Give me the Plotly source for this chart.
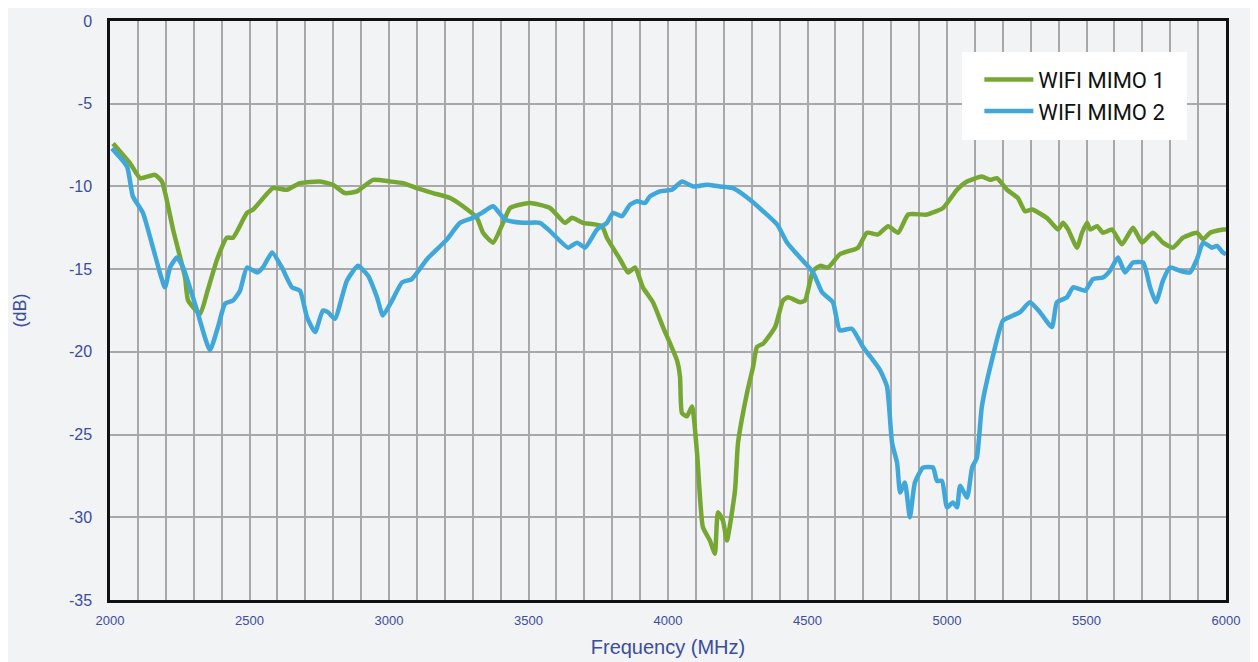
import plotly.graph_objects as go

mimo1_freq = [2011, 2072, 2108, 2161, 2186, 2226, 2269, 2280, 2323, 2348, 2384, 2419, 2441, 2491, 2513,
              2584, 2634, 2681, 2753, 2799, 2842, 2885, 2943, 3004, 3050, 3100, 3158, 3219, 3265, 3315,
              3337, 3373, 3409, 3434, 3505, 3577, 3631, 3656, 3695, 3763, 3781, 3828, 3857, 3882, 3910,
              3946, 3982, 4032, 4043, 4050, 4068, 4086, 4104, 4125, 4150, 4168, 4179, 4197, 4211, 4240,
              4251, 4283, 4305, 4319, 4341, 4384, 4412, 4430, 4473, 4491, 4520, 4545, 4574, 4616, 4681,
              4713, 4753, 4789, 4825, 4861, 4928, 4986, 5036, 5072, 5125, 5154, 5179, 5215, 5254, 5280,
              5305, 5358, 5398, 5416, 5434, 5466, 5484, 5502, 5513, 5538, 5559, 5591, 5627, 5667, 5699,
              5738, 5774, 5810, 5846, 5896, 5918, 5943, 5989, 6000]
mimo1_db = [-7.4, -8.6, -9.5, -9.3, -9.7, -12.6, -15.5, -16.9, -17.7, -16.4, -14.4, -13.1, -13.1, -11.6, -11.4,
            -10.1, -10.2, -9.8, -9.7, -9.9, -10.4, -10.3, -9.6, -9.7, -9.8, -10.1, -10.4, -10.7, -11.2, -11.9,
            -12.8, -13.4, -12.2, -11.3, -11.0, -11.3, -12.2, -11.9, -12.2, -12.4, -13.1, -14.4, -15.2, -14.9, -16.1,
            -17.0, -18.5, -20.5, -21.5, -23.7, -23.9, -23.3, -26.1, -30.6, -31.4, -32.2, -29.7, -30.2, -31.4, -28.4,
            -25.5, -22.5, -20.9, -19.7, -19.5, -18.5, -16.9, -16.7, -17.0, -16.9, -15.1, -14.8, -14.9, -14.1, -13.7,
            -12.8, -12.9, -12.4, -12.8, -11.7, -11.7, -11.3, -10.2, -9.7, -9.4, -9.6, -9.5, -10.2, -10.7, -11.5,
            -11.4, -11.9, -12.6, -12.2, -12.6, -13.7, -12.8, -12.2, -12.6, -12.4, -12.8, -12.6, -13.5, -12.5, -13.4,
            -12.8, -13.4, -13.7, -13.1, -12.8, -13.2, -12.8, -12.6, -12.6]

mimo2_freq = [2007, 2061, 2082, 2118, 2154, 2197, 2215, 2240, 2262, 2312, 2358, 2387, 2412, 2441, 2466,
              2491, 2527, 2548, 2581, 2616, 2652, 2681, 2706, 2735, 2763, 2781, 2806, 2849, 2889, 2925,
              2957, 2978, 3011, 3047, 3082, 3136, 3208, 3254, 3301, 3333, 3373, 3416, 3480, 3541, 3577,
              3642, 3674, 3703, 3746, 3781, 3803, 3835, 3864, 3889, 3918, 3935, 3971, 4014, 4050, 4090,
              4140, 4186, 4233, 4294, 4341, 4391, 4427, 4473, 4520, 4552, 4591, 4616, 4659, 4699, 4760,
              4785, 4803, 4821, 4832, 4849, 4867, 4885, 4914, 4950, 4964, 4982, 5000, 5021, 5036, 5047,
              5072, 5090, 5107, 5125, 5161, 5201, 5237, 5262, 5297, 5333, 5376, 5394, 5430, 5452, 5495,
              5523, 5559, 5584, 5613, 5638, 5667, 5703, 5728, 5749, 5774, 5799, 5835, 5871, 5896, 5918,
              5950, 5968, 5989, 6000]
mimo2_db = [-7.7, -8.8, -10.6, -11.6, -13.7, -16.1, -14.9, -14.3, -14.9, -17.5, -19.9, -18.5, -17.1, -16.9, -16.3,
            -14.9, -15.2, -14.9, -14.0, -14.9, -16.1, -16.3, -17.9, -18.8, -17.5, -17.6, -18.0, -15.7, -14.8, -15.4,
            -16.7, -17.8, -16.9, -15.8, -15.6, -14.4, -13.2, -12.2, -11.9, -11.6, -11.2, -12.0, -12.2, -12.2, -12.7,
            -13.7, -13.4, -13.7, -12.6, -12.2, -11.6, -11.8, -11.1, -10.9, -11.0, -10.6, -10.3, -10.2, -9.7, -10.0,
            -9.9, -10.0, -10.1, -10.8, -11.5, -12.3, -13.4, -14.3, -15.2, -16.4, -17.0, -18.7, -18.6, -19.7, -21.1,
            -22.1, -25.5, -26.7, -28.5, -27.9, -30.0, -27.9, -27.0, -27.0, -27.8, -27.8, -29.4, -29.1, -29.4, -28.1,
            -28.8, -27.0, -26.4, -23.3, -20.5, -18.1, -17.8, -17.6, -17.0, -17.6, -18.5, -17.0, -16.7, -16.1, -16.3,
            -15.6, -15.5, -15.1, -14.3, -15.2, -14.6, -14.6, -16.1, -17.0, -15.7, -14.9, -15.1, -15.2, -14.4, -13.4,
            -13.7, -13.6, -14.0, -14.1]

x_ticks = [2000, 2500, 3000, 3500, 4000, 4500, 5000, 5500, 6000]
y_ticks = [0, -5, -10, -15, -20, -25, -30, -35]

GREEN = "#77a733"
BLUE = "#3fa7d9"
LABEL = "#3b4d9c"
GRID = "#a8a8a8"
BG = "#f1f3f5"

fig = go.Figure()
fig.add_trace(go.Scatter(x=mimo1_freq, y=mimo1_db, mode="lines", name="WIFI MIMO 1",
                         line=dict(color=GREEN, width=4.5, shape="spline", smoothing=0.5)))
fig.add_trace(go.Scatter(x=mimo2_freq, y=mimo2_db, mode="lines", name="WIFI MIMO 2",
                         line=dict(color=BLUE, width=4.5, shape="spline", smoothing=0.5)))

# white backing panel for the legend
fig.add_shape(type="rect", xref="paper", yref="paper", x0=0.7634, x1=0.9651, y0=0.7945, y1=0.9465,
              fillcolor="white", line=dict(width=0), layer="above")

fig.update_layout(
    width=1250, height=654,
    margin=dict(l=102, r=32, t=13, b=62, autoexpand=False),
    paper_bgcolor=BG, plot_bgcolor=BG,
    font=dict(family="Liberation Sans, Arial, sans-serif", color=LABEL),
    showlegend=True,
    legend=dict(x=0.779, y=0.935, xanchor="left", yanchor="top",
                bgcolor="rgba(0,0,0,0)", borderwidth=0,
                font=dict(family="Roboto, sans-serif", size=22, color="#111111"),
                itemwidth=49, tracegroupgap=0),
    xaxis=dict(range=[2000, 6000], tickvals=x_ticks, ticktext=[str(v) for v in x_ticks],
               tickfont=dict(size=13, color=LABEL), ticks="", ticklen=0, ticklabelstandoff=7,
               automargin=False,
               showgrid=True, gridcolor=GRID, gridwidth=1.5,
               minor=dict(dtick=100, showgrid=True, gridcolor=GRID, gridwidth=1.5),
               showline=True, linecolor="#111111", linewidth=2.5, mirror=True, zeroline=False,
               title=dict(text="Frequency (MHz)", font=dict(size=20, color=LABEL), standoff=13)),
    yaxis=dict(range=[-35, 0], tickvals=y_ticks, ticktext=[str(v) for v in y_ticks],
               tickfont=dict(size=16, color=LABEL), ticks="outside", ticklen=12, tickcolor=BG,
               automargin=False,
               showgrid=True, gridcolor=GRID, gridwidth=1.5,
               showline=True, linecolor="#111111", linewidth=2.5, mirror=True, zeroline=False,
               title=dict(text="(dB)", font=dict(size=18, color=LABEL), standoff=38)),
)

fig.write_html("out.html")
